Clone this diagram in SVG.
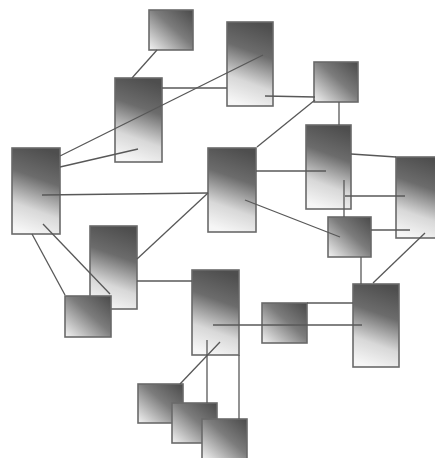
<svg xmlns="http://www.w3.org/2000/svg" width="435" height="458" viewBox="0 0 435 458">
<style>
.tall{fill:url(#gv);stroke:#6a6a6a;stroke-width:1.6}
.sq{fill:url(#gd);stroke:#6a6a6a;stroke-width:1.6}
#edges line{stroke:#585858;stroke-width:1.3;fill:none}
</style>
<defs>
<linearGradient id="gv" x1="0.6" y1="0" x2="0.4" y2="1">
<stop offset="0" stop-color="#4e4e4e"/>
<stop offset="0.35" stop-color="#6c6c6c"/>
<stop offset="0.72" stop-color="#d8d8d8"/>
<stop offset="1" stop-color="#f6f6f6"/>
</linearGradient>
<linearGradient id="gd" x1="1" y1="0" x2="0" y2="1">
<stop offset="0" stop-color="#4a4a4a"/>
<stop offset="0.45" stop-color="#7c7c7c"/>
<stop offset="1" stop-color="#f4f4f4"/>
</linearGradient>
</defs>
<rect width="435" height="458" fill="#ffffff"/>
<g id="nodes">
<g id="n1"><rect class="sq" x="149" y="10" width="44" height="40"/></g>
<g id="n2"><rect class="tall" x="115" y="78" width="47" height="84"/></g>
<g id="n3"><rect class="tall" x="227" y="22" width="46" height="84"/></g>
<g id="n4"><rect class="sq" x="314" y="62" width="44" height="40"/></g>
<g id="n5"><rect class="tall" x="12" y="148" width="48" height="86"/></g>
<g id="n6"><rect class="tall" x="208" y="148" width="48" height="84"/></g>
<g id="n7"><rect class="tall" x="306" y="125" width="45" height="84"/></g>
<g id="n8"><rect class="tall" x="396" y="157" width="46" height="81"/></g>
<g id="n9"><rect class="sq" x="328" y="217" width="43" height="40"/></g>
<g id="n10"><rect class="tall" x="90" y="226" width="47" height="83"/></g>
<g id="n11"><rect class="sq" x="65" y="296" width="46" height="41"/></g>
<g id="n12"><rect class="tall" x="192" y="270" width="47" height="85"/></g>
<g id="n13"><rect class="sq" x="262" y="303" width="45" height="40"/></g>
<g id="n14"><rect class="tall" x="353" y="284" width="46" height="83"/></g>
<g id="n15"><rect class="sq" x="138" y="384" width="45" height="39"/></g>
<g id="n16"><rect class="sq" x="172" y="403" width="45" height="40"/></g>
<g id="n17"><rect class="sq" x="202" y="419" width="45" height="40"/></g>
</g>
<g id="edges">
<line x1="157" y1="50" x2="132" y2="78"/>
<line x1="162" y1="88" x2="227" y2="88"/>
<line x1="60" y1="156" x2="263" y2="55"/>
<line x1="60" y1="167" x2="138" y2="149"/>
<line x1="42" y1="195" x2="208" y2="193"/>
<line x1="208" y1="193" x2="137" y2="259"/>
<line x1="265" y1="96" x2="315" y2="97"/>
<line x1="315" y1="100" x2="257" y2="147"/>
<line x1="339" y1="102" x2="339" y2="125"/>
<line x1="256" y1="171" x2="326" y2="171"/>
<line x1="351" y1="154" x2="396" y2="157"/>
<line x1="344" y1="180" x2="344" y2="217"/>
<line x1="345" y1="196" x2="405" y2="196"/>
<line x1="245" y1="200" x2="340" y2="237"/>
<line x1="371" y1="230" x2="410" y2="230"/>
<line x1="361" y1="257" x2="361" y2="284"/>
<line x1="425" y1="233" x2="373" y2="283"/>
<line x1="307" y1="303" x2="353" y2="303"/>
<line x1="213" y1="325" x2="362" y2="325"/>
<line x1="137" y1="281" x2="192" y2="281"/>
<line x1="32" y1="234" x2="65" y2="295"/>
<line x1="43" y1="224" x2="110" y2="294"/>
<line x1="207" y1="340" x2="207" y2="403"/>
<line x1="220" y1="342" x2="180" y2="384"/>
<line x1="239" y1="355" x2="239" y2="419"/>
</g>
</svg>
